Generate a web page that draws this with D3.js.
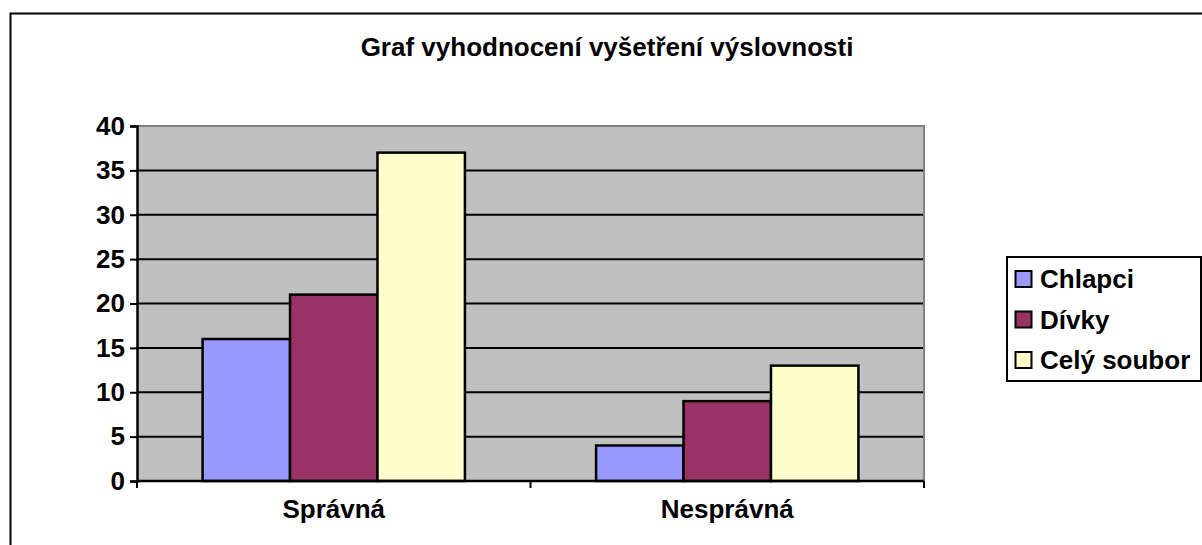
<!DOCTYPE html>
<html>
<head>
<meta charset="utf-8">
<script src="https://cdn.jsdelivr.net/npm/d3@7"></script>
<style>
  body { margin: 0; background: #fff; }
  text { font-family: "Liberation Sans", Arial, sans-serif; font-weight: bold; fill: #000; }
</style>
</head>
<body>
<svg id="chart" width="1202" height="545"></svg>
<script>
// data
const categories = ["Správná", "Nesprávná"];
const seriesNames = ["Chlapci", "Dívky", "Celý soubor"];
const chlapci = [16, 4];
const divky = [21, 9];
const celySoubor = [37, 13];
const yTicks = [0, 5, 10, 15, 20, 25, 30, 35, 40];
const seriesColors = ["#9999FF", "#993366", "#FFFFCC"];
const chartTitle = "Graf vyhodnocení vyšetření výslovnosti";

const seriesValues = [chlapci, divky, celySoubor];
const rows = categories.map((c, i) => ({
  category: c,
  values: seriesNames.map((s, j) => ({ name: s, value: seriesValues[j][i], color: seriesColors[j] }))
}));

const svg = d3.select("#chart");
const fontSize = 26;

// outer frame (runs off the right and bottom edge)
svg.append("rect")
  .attr("x", 10.5).attr("y", 13.5)
  .attr("width", 1205).attr("height", 545)
  .attr("fill", "none").attr("stroke", "#000").attr("stroke-width", 2);

const plot = { left: 137, right: 924, top: 126, bottom: 481 };

const x0 = d3.scaleBand().domain(categories).range([plot.left, plot.right]);
const x1 = d3.scaleBand().domain(seriesNames).range([0, x0.bandwidth()])
  .paddingInner(0).paddingOuter(0.75);
const y = d3.scaleLinear().domain([0, 40]).range([plot.bottom, plot.top]);

// plot background
svg.append("rect")
  .attr("x", plot.left).attr("y", plot.top)
  .attr("width", plot.right - plot.left).attr("height", plot.bottom - plot.top)
  .attr("fill", "#C0C0C0");

// gridlines
svg.append("g")
  .selectAll("line")
  .data(yTicks.filter(t => t > 0 && t < 40))
  .join("line")
  .attr("x1", plot.left).attr("x2", plot.right)
  .attr("y1", d => y(d)).attr("y2", d => y(d))
  .attr("stroke", "#000").attr("stroke-width", 2);

// top / right border of plot area
svg.append("path")
  .attr("d", `M${plot.left},${y(40)}H${plot.right}V${plot.bottom}`)
  .attr("fill", "none").attr("stroke", "#808080").attr("stroke-width", 2);

// bars
const groups = svg.append("g")
  .selectAll("g")
  .data(rows)
  .join("g")
  .attr("transform", d => `translate(${x0(d.category)},0)`);

groups.selectAll("rect")
  .data(d => d.values)
  .join("rect")
  .attr("x", d => x1(d.name))
  .attr("y", d => y(d.value))
  .attr("width", x1.bandwidth())
  .attr("height", d => y(0) - y(d.value))
  .attr("fill", d => d.color)
  .attr("stroke", "#000")
  .attr("stroke-width", 2.5);

// y axis
const yAxis = svg.append("g")
  .attr("transform", `translate(${plot.left},0)`)
  .call(d3.axisLeft(y).tickValues(yTicks).tickSize(7).tickPadding(5));
yAxis.select(".domain").attr("stroke-width", 2.5);
yAxis.selectAll(".tick line").attr("stroke-width", 2);
yAxis.selectAll("text").attr("font-size", fontSize)
  .attr("font-family", "'Liberation Sans', Arial, sans-serif").attr("font-weight", "bold");

// x axis: line, ticks at category boundaries, labels centred
const xAxis = svg.append("g");
xAxis.append("line")
  .attr("x1", plot.left).attr("x2", plot.right)
  .attr("y1", y(0)).attr("y2", y(0))
  .attr("stroke", "#000").attr("stroke-width", 2.5);

const boundaries = categories.map(c => x0(c)).concat([plot.right]);
xAxis.selectAll(".xtick")
  .data(boundaries)
  .join("line")
  .attr("class", "xtick")
  .attr("x1", d => d).attr("x2", d => d)
  .attr("y1", y(0)).attr("y2", y(0) + 7)
  .attr("stroke", "#000").attr("stroke-width", 2);

xAxis.selectAll("text")
  .data(categories)
  .join("text")
  .attr("x", d => x0(d) + x0.bandwidth() / 2)
  .attr("y", 518)
  .attr("text-anchor", "middle")
  .attr("font-size", fontSize)
  .text(d => d);

// title
svg.append("text")
  .attr("x", 607).attr("y", 56)
  .attr("text-anchor", "middle")
  .attr("font-size", fontSize)
  .text(chartTitle);

// legend
const legend = svg.append("g").attr("transform", "translate(1007,257)");
legend.append("rect")
  .attr("width", 194).attr("height", 124)
  .attr("fill", "#fff").attr("stroke", "#000").attr("stroke-width", 2);

const item = legend.selectAll(".item")
  .data(seriesNames)
  .join("g")
  .attr("class", "item")
  .attr("transform", (d, i) => `translate(0,${22 + i * 40.5})`);

item.append("rect")
  .attr("x", 8.5).attr("y", -8)
  .attr("width", 16).attr("height", 16)
  .attr("fill", (d, i) => seriesColors[i])
  .attr("stroke", "#000").attr("stroke-width", 2);

item.append("text")
  .attr("x", 33)
  .attr("dy", "0.35em")
  .attr("font-size", fontSize)
  .text(d => d);
</script>
</body>
</html>
